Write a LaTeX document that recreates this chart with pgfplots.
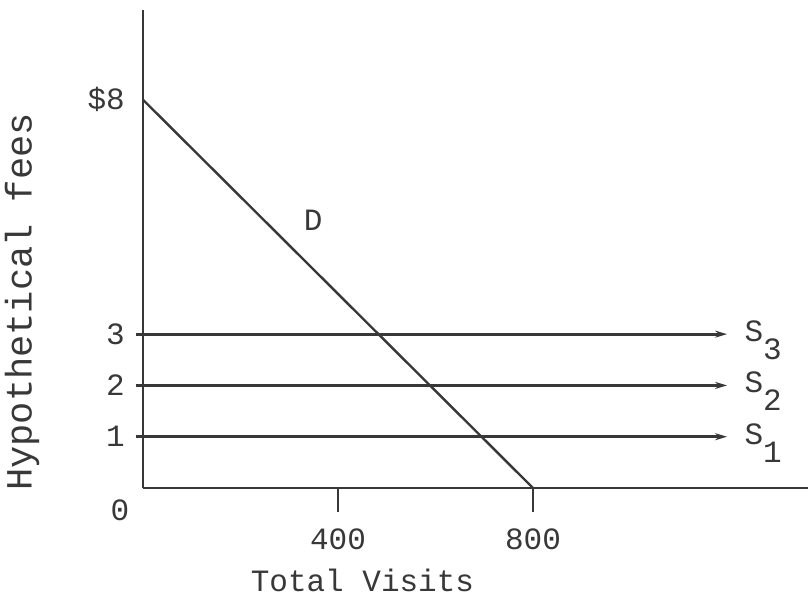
\documentclass[border=0pt]{standalone}
\usepackage{fontspec}
\setmainfont{Liberation Mono}
\usepackage{pgfplots}
\pgfplotsset{compat=1.18}
\usetikzlibrary{arrows.meta,calc}
\definecolor{ink}{HTML}{383838}

\begin{document}
\fontsize{15.5}{18}\selectfont
\begin{tikzpicture}
  \begin{axis}[
      scale only axis,
      width=332.5pt, height=239pt,
      xmin=0, xmax=1364, ymin=0, ymax=9.32,
      axis x line*=bottom, axis y line*=left,
      axis line style={ink, line width=1.4pt},
      xtick={400,800},
      ytick={1,2,3,7.57},
      yticklabels={1,2,3,\$8},
      tick align=outside,
      x tick style={ink, line width=1.3pt},
      xtick style={/pgfplots/major tick length=12pt},
      ytick style={draw=none},
      /pgf/number format/assume math mode=true,
      /pgf/number format/set thousands separator={},
      tick label style={ink},
      xticklabel style={yshift=-10.5pt},
      yticklabel style={xshift=0.5pt},
      xlabel={Total Visits},
      ylabel={Hypothetical fees},
      label style={ink},
      xlabel style={at={(axis description cs:0.33,0)}, anchor=center, yshift=-46pt},
      ylabel style={at={(axis description cs:0,0.389)}, anchor=center, yshift=60.5pt,
        font=\fontsize{18.5}{20}\selectfont},
      clip=false,
    ]
    % demand
    \addplot[ink, line width=1.2pt] coordinates {(0,7.57) (800,0)};
    % supply lines
    \addplot[ink, line width=1.4pt, -{Stealth[length=6pt,width=3.5pt]}] coordinates {(-15,3) (1198,3)};
    \addplot[ink, line width=1.4pt, -{Stealth[length=6pt,width=3.5pt]}] coordinates {(-15,2) (1198,2)};
    \addplot[ink, line width=1.4pt, -{Stealth[length=6pt,width=3.5pt]}] coordinates {(-15,1) (1198,1)};
    \node[ink] at (axis cs:349,5.22) {D};
    \node[ink, anchor=west] at (axis cs:1212,2.88) {S\raisebox{-1.1ex}{3}};
    \node[ink, anchor=west] at (axis cs:1212,1.88) {S\raisebox{-1.1ex}{2}};
    \node[ink, anchor=west] at (axis cs:1212,0.88) {S\raisebox{-1.1ex}{1}};
    \node[ink] at (axis cs:0,0) [xshift=-11.5pt, yshift=-11pt] {0};
    \coordinate (O) at (axis cs:0,0);
  \end{axis}
  \pgfresetboundingbox
  \useasboundingbox ($(O)+(-71.5pt,-57pt)$) rectangle ($(O)+(332.5pt,244pt)$);
\end{tikzpicture}
\end{document}
